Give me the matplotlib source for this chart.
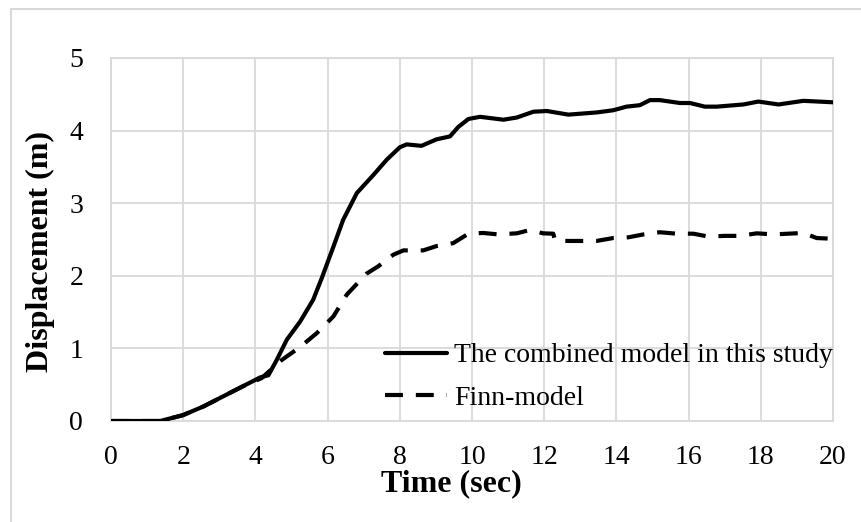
import matplotlib
matplotlib.use("Agg")
import matplotlib.pyplot as plt
from matplotlib.patches import Rectangle

# displacement history, combined model
t_combined = [0, 1.36, 1.99, 2.56, 3.11, 3.66, 4.13, 4.36, 4.59, 4.87, 5.24, 5.6,
              5.84, 6.16, 6.43, 6.81, 7.27, 7.64, 8.0, 8.19, 8.6, 9.02, 9.39, 9.62,
              9.9, 10.22, 10.87, 11.24, 11.7, 12.07, 12.67, 13.45, 13.91, 14.28,
              14.65, 14.93, 15.2, 15.76, 16.04, 16.45, 16.78, 17.52, 17.93, 18.49,
              19.18, 20.0]
d_combined = [0, 0, 0.08, 0.2, 0.34, 0.48, 0.6, 0.63, 0.84, 1.12, 1.37, 1.67,
              1.97, 2.4, 2.77, 3.14, 3.39, 3.6, 3.77, 3.81, 3.79, 3.88, 3.92, 4.05,
              4.16, 4.19, 4.15, 4.18, 4.26, 4.27, 4.22, 4.25, 4.28, 4.33,
              4.35, 4.42, 4.42, 4.38, 4.38, 4.33, 4.33, 4.36, 4.4, 4.36,
              4.41, 4.39]

# displacement history, Finn model
t_finn = [0, 1.36, 1.99, 2.56, 3.11, 3.66, 4.17, 4.73, 5.24, 5.7, 6.16, 6.53,
          7.08, 7.4, 7.82, 8.1, 8.65, 9.02, 9.48, 9.9, 10.31, 10.73, 11.24, 11.6,
          11.97, 12.25, 12.3, 12.58, 13.0, 13.45, 13.91, 14.33, 14.75, 15.2,
          15.67, 16.13, 16.55, 17.0, 17.42, 17.89, 18.35, 18.76, 19.18, 19.55, 20.0]
d_finn = [0, 0, 0.08, 0.2, 0.34, 0.48, 0.59, 0.84, 1.02, 1.21, 1.44, 1.74,
          2.03, 2.13, 2.29, 2.35, 2.35, 2.41, 2.45, 2.58, 2.59, 2.57, 2.585, 2.63,
          2.585, 2.58, 2.49, 2.48, 2.48, 2.48, 2.52, 2.53, 2.57, 2.6,
          2.58, 2.58, 2.54, 2.55, 2.55, 2.585, 2.57, 2.58, 2.59, 2.52, 2.51]

x_ticks = [0, 2, 4, 6, 8, 10, 12, 14, 16, 18, 20]
y_ticks = [0, 1, 2, 3, 4, 5]

plt.rcParams['font.family'] = ['Liberation Serif', 'DejaVu Serif']
grid_col = "#d9d9d9"

fig = plt.figure(figsize=(8.62, 5.22), dpi=100)
ax = fig.add_axes([111 / 862, 1 - 421 / 522, 722 / 862, 363 / 522])

ax.plot(t_finn, d_finn, c="k", lw=3, ls=(0, (4.3, 3.1)), label="Finn-model",
        solid_joinstyle="round", zorder=2)
ax.plot(t_combined, d_combined, c="k", lw=3, label="The combined model in this study",
        solid_joinstyle="round", solid_capstyle="round", zorder=3)

ax.set_xlim(0, 20)
ax.set_ylim(0, 5)
ax.set_xticks(x_ticks)
ax.set_yticks(y_ticks)
ax.tick_params(axis="both", length=0, labelsize=20)
ax.tick_params(axis="x", pad=17)
ax.tick_params(axis="y", pad=20)
ax.grid(True, color=grid_col, lw=1.3)
ax.set_axisbelow(True)
for sp in ax.spines.values():
    sp.set_color(grid_col)
    sp.set_linewidth(1.3)

handles, labels = ax.get_legend_handles_labels()
fig.legend(handles[::-1], labels[::-1], loc="upper left",
           bbox_to_anchor=(385 / 862, 1 - 343 / 522), frameon=False, fontsize=20,
           handlelength=2.25, handletextpad=0.25, labelspacing=0.62,
           borderpad=0, borderaxespad=0)

fig.text(451 / 862, 1 - 484 / 522, "Time (sec)", ha="center", va="center",
         fontsize=23, fontweight="bold")
fig.text(40 / 862, 1 - 251 / 522, "Displacement (m)", ha="center", va="center",
         rotation=90, fontsize=23, fontweight="bold")

# outer frame, open at right and bottom
fig.patches.append(Rectangle((11 / 862, -0.1), 1.2, 1 - 8.5 / 522 + 0.1,
                             transform=fig.transFigure, fill=False,
                             ec=grid_col, lw=1.5))

fig.savefig("out.png", dpi=100)
